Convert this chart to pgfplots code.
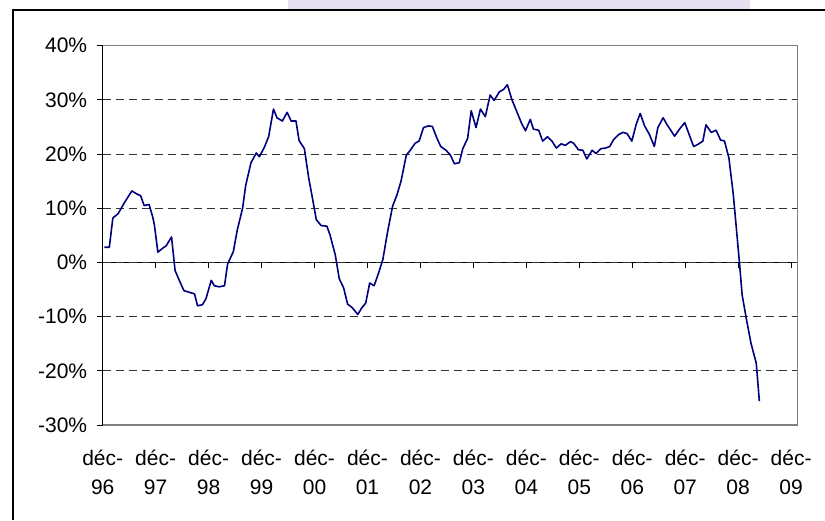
\documentclass[border=0pt]{standalone}
\usepackage{fontspec}
\setmainfont{Liberation Sans}
\usepackage{pgfplots}
\pgfplotsset{compat=1.18}
\definecolor{navyline}{HTML}{000080}
\definecolor{lavender}{HTML}{E6DFF0}
\begin{document}
\begin{tikzpicture}
\path[use as bounding box] (0pt,0pt) rectangle (825pt,520pt);
\fill[lavender] (288pt,511pt) rectangle (750pt,520pt);
\draw[line width=2pt] (13pt,0pt) -- (13pt,510pt) -- (825pt,510pt);
% zero line with its tick marks
\begin{axis}[at={(102.7pt,95pt)}, anchor=south west, scale only axis,
  width=694.6pt, height=379.3pt,
  xmin=0, xmax=157.4, ymin=-30, ymax=40,
  axis x line=middle, axis y line=none,
  x axis line style={-, black, line width=1pt},
  xtick={0,12,...,156}, xticklabels={},
  xtick align=outside, major tick length=6pt,
  xtick style={black, line width=0.8pt}]
\end{axis}
\begin{axis}[at={(102.7pt,95pt)}, anchor=south west, scale only axis,
  width=694.6pt, height=379.3pt,
  xmin=0, xmax=157.4, ymin=-30, ymax=40,
  axis line style={draw=none},
  ytick={-30,-20,-10,0,10,20,30,40},
  yticklabels={-30\%,-20\%,-10\%,0\%,10\%,20\%,30\%,40\%},
  ymajorgrids,
  major grid style={dash pattern=on 8pt off 5pt, black!80, line width=0.8pt},
  xtick={0,12,...,156},
  xticklabels={{déc-\\96},{déc-\\97},{déc-\\98},{déc-\\99},{déc-\\00},{déc-\\01},{déc-\\02},{déc-\\03},{déc-\\04},{déc-\\05},{déc-\\06},{déc-\\07},{déc-\\08},{déc-\\09}},
  xtick style={draw=none},
  ytick pos=left, ytick align=outside, major tick length=6pt,
  ytick style={black, line width=0.8pt},
  xticklabel style={font=\fontsize{21}{28.3}\selectfont, align=center, yshift=-22pt},
  yticklabel style={font=\fontsize{21}{28.3}\selectfont, xshift=-6pt},
  clip=false]
\addplot[navyline, line width=1.6pt, line join=round] coordinates {
(0.4,2.8) (1.5,2.8) (2.3,8.2) (3.5,9.0) (4.9,11.0) (6.6,13.2) (7.6,12.7)
(8.6,12.3) (9.4,10.5) (10.5,10.7) (11.3,8.5) (11.7,7.0) (12.5,1.9) (13.4,2.5)
(14.4,3.1) (15.6,4.7) (16.4,-1.5) (17.3,-3.2) (18.4,-5.2) (19.6,-5.5) (20.8,-5.8)
(21.5,-8.0) (22.6,-7.8) (23.4,-6.7) (24.6,-3.3) (25.3,-4.3) (26.4,-4.5) (27.6,-4.3)
(28.3,-0.3) (29.6,2.0) (30.5,6.0) (31.7,10.0) (32.4,14.2) (33.6,18.4) (34.8,20.2)
(35.5,19.5) (36.6,21.2) (37.6,23.2) (38.7,28.3) (39.5,26.7) (40.7,26.1) (41.8,27.7)
(42.7,26.1) (43.8,26.1) (44.5,22.5) (45.7,21.0) (46.7,15.5) (47.5,12.0) (48.4,7.9)
(49.5,6.8) (50.8,6.7) (51.5,5.1) (52.7,1.4) (53.6,-3.0) (54.6,-4.7) (55.5,-7.7)
(56.5,-8.3) (57.8,-9.6) (58.7,-8.4) (59.6,-7.5) (60.5,-3.8) (61.5,-4.3) (62.5,-2.0)
(63.5,0.6) (64.5,5.4) (65.7,10.4) (66.7,12.5) (67.6,15.0) (68.8,19.8) (69.7,20.7)
(70.8,22.0) (71.7,22.4) (72.7,24.9) (73.8,25.2) (74.7,25.1) (75.7,23.0) (76.6,21.4)
(77.8,20.7) (78.8,19.8) (79.7,18.2) (80.8,18.4) (81.6,21.0) (82.7,22.9) (83.5,28.0)
(84.6,24.9) (85.6,28.3) (86.7,26.9) (87.8,30.9) (88.7,29.9) (89.9,31.5) (90.8,31.9)
(91.7,32.8) (92.7,30.1) (93.9,27.7) (94.9,25.7) (95.8,24.3) (96.9,26.4) (97.6,24.6)
(98.8,24.4) (99.7,22.4) (100.8,23.2) (101.8,22.4) (102.8,21.1) (103.9,21.9) (104.8,21.6)
(106.0,22.3) (106.7,22.0) (107.8,20.8) (108.8,20.7) (109.7,19.1) (110.9,20.7) (111.8,20.1)
(112.9,21.0) (113.9,21.1) (114.9,21.4) (115.8,22.7) (116.9,23.6) (117.9,24.0) (118.8,23.8)
(119.9,22.4) (120.9,25.5) (121.8,27.5) (122.8,25.2) (123.9,23.6) (125.0,21.4) (125.8,24.9)
(127.0,26.7) (127.9,25.4) (129.6,23.3) (130.7,24.6) (131.9,25.8) (132.9,23.6) (133.9,21.4)
(134.9,21.8) (136.0,22.4) (136.7,25.4) (137.9,24.0) (139.0,24.4) (140.0,22.6) (140.9,22.4)
(141.9,19.3) (142.9,12.5) (144.3,-0.1) (144.9,-6.0) (145.9,-10.6) (146.9,-14.9) (148.1,-18.6)
(148.8,-25.6)
};
\draw[gray, line width=1.3pt] (rel axis cs:0,0) -- (rel axis cs:1,0) -- (rel axis cs:1,1) -- (rel axis cs:0,1);
\draw[black, line width=1.3pt] (rel axis cs:0,0) -- (rel axis cs:0,1);
\end{axis}
\end{tikzpicture}
\end{document}
